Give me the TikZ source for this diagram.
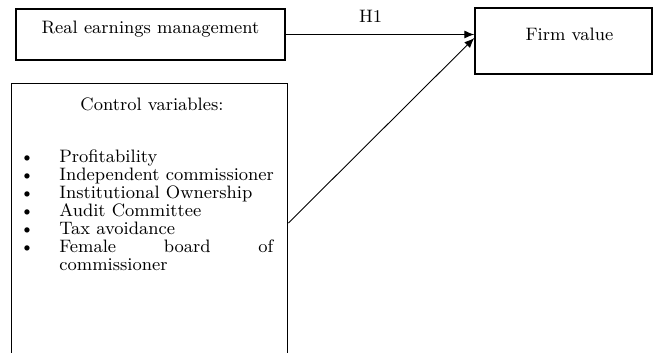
\documentclass[tikz,border=0pt]{standalone}
\usetikzlibrary{%
  arrows.meta,%
  calc,%
  positioning% wg. " of "
}

\begin{document}
\begin{tikzpicture}[
    x=0.5pt,y=-0.5pt,
    >={Latex[length=5pt,width=4pt]},
    font=\fontsize{9}{9}\selectfont,
    box/.style={rectangle,draw,line width=0.7pt,inner sep=0pt},
    link/.style={->,line width=0.45pt},
    listitem/.style={anchor=base west,inner sep=0pt},
    bullet/.style={anchor=base,inner sep=0pt}
  ]

    \useasboundingbox (0,0) rectangle (654,353);
    \clip (0,0) rectangle (654,353);

    \node[box,minimum width=134.5pt,text height=12.5pt,text depth=13pt]
        (rem) at (150.5,34.5) {Real earnings management};
    \node[box,minimum width=88.5pt,text height=16.5pt,text depth=16.5pt]
        (fv) at (563.5,41) {\hspace*{6pt}Firm value};
    \node[box,anchor=north west,minimum width=138pt,minimum height=150pt]
        (ctrl) at (11,83) {};

    \node[anchor=base] (ctrlhead) at (152,111) {Control variables:};
    \foreach \var [count=\i] in {Profitability,Independent commissioner,
        Institutional Ownership,Audit Committee,Tax avoidance} {
      \node[bullet] (dot\i) at (27,145+17.9*\i) {\textbullet};
      \node[listitem] (item\i) at (59,145+17.9*\i) {\var};
    }
    \node[bullet] (dot6) at (27,252.4) {\textbullet};
    \node[listitem] (item6) at (59,252.4)
        {\makebox[107pt][s]{Female\hfill board\hfill of}};
    \node[listitem] (item7) at (59,270.3) {commissioner};

    \draw[link] (rem.east) -- node[pos=0.45,above=2.5pt] (h1) {H1}
        (fv.west |- rem.east);
    \draw[link] ($(ctrl.north east)+(0,140)$) -- ($(fv.west)+(0,-3)$);
\end{tikzpicture}
\end{document}
